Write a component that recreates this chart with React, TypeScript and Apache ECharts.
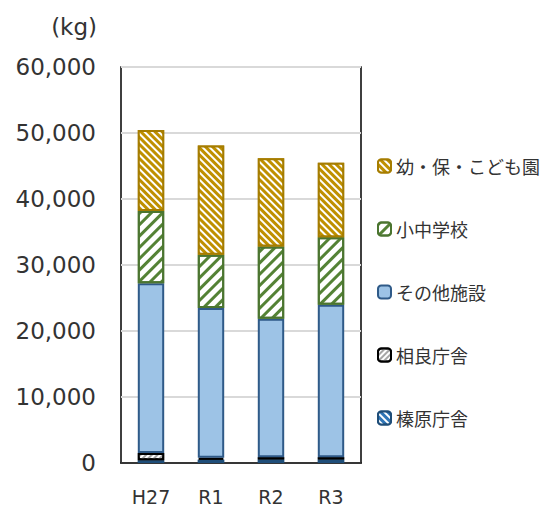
import React, { useEffect, useRef } from "react";
import * as echarts from "echarts";

const categories = ["H27", "R1", "R2", "R3"];
const seriesNames = ["榛原庁舎", "相良庁舎", "その他施設", "小中学校", "幼・保・こども園"];
const haibara = [400, 500, 550, 550];
const sagara = [1100, 300, 330, 330];
const sonota = [25750, 22670, 20970, 23090];
const shochu = [10950, 8070, 10940, 10250];
const youho = [12260, 16550, 13390, 11290];
const yTicks = [0, 10000, 20000, 30000, 40000, 50000, 60000];

const FONT = "'Noto Sans CJK JP', 'Noto Sans', sans-serif";
const NUMFONT = "'DejaVu Sans', 'Noto Sans', sans-serif";

export default function App() {
  const ref = useRef<HTMLDivElement>(null);
  useEffect(() => {
    if (!ref.current) return;
    const chart = echarts.init(ref.current, undefined, { renderer: "svg" });
    const values = [haibara, sagara, sonota, shochu, youho];
    const styles = [
      {
        color: "#2E75B6",
        borderColor: "#1F4E79",
        decal: { symbol: "rect", symbolSize: 1, dashArrayX: [1, 0], dashArrayY: [2, 3], rotation: Math.PI / 4, color: "#FFFFFF" },
      },
      {
        color: "#FFFFFF",
        borderColor: "#000000",
        decal: { symbol: "rect", symbolSize: 1, dashArrayX: [1, 0], dashArrayY: [2, 2], rotation: -Math.PI / 4, color: "#A6A6A6" },
      },
      { color: "#9DC3E6", borderColor: "#2F5A88", decal: "none" },
      {
        color: "#FFFFFF",
        borderColor: "#4B7530",
        decal: { symbol: "rect", symbolSize: 1, dashArrayX: [1, 0], dashArrayY: [3, 5], rotation: -Math.PI / 4, color: "#548235" },
      },
      {
        color: "#BF9000",
        borderColor: "#A67D00",
        decal: { symbol: "rect", symbolSize: 1, dashArrayX: [1, 0], dashArrayY: [2, 3], rotation: Math.PI / 4, color: "#FFFFFF" },
      },
    ];
    const series = seriesNames.map((name, i) => ({
      name,
      type: "bar",
      stack: "total",
      barWidth: "44%",
      data: values[i],
      itemStyle: { ...styles[i], borderWidth: 2 },
      emphasis: { disabled: true },
    }));
    chart.setOption({
      animation: false,
      aria: { enabled: false, decal: { show: true } },
      textStyle: { fontFamily: FONT },
      grid: { left: 121, top: 67, right: 188, bottom: 43, show: true, borderColor: "#000", borderWidth: 1.5, backgroundColor: "transparent" },
      legend: {
        orient: "vertical",
        left: 372,
        top: 152,
        itemGap: 45,
        itemWidth: 13,
        itemHeight: 13,
        data: [...seriesNames].reverse(),
        textStyle: { fontSize: 18, color: "#333", fontFamily: FONT },
        selectedMode: false,
      },
      xAxis: {
        type: "category",
        data: categories,
        axisLine: { show: true, lineStyle: { color: "#000", width: 1.5 } },
        axisTick: { show: false },
        axisLabel: { fontSize: 19, color: "#333", margin: 24, fontFamily: NUMFONT },
      },
      yAxis: {
        type: "value",
        min: yTicks[0],
        max: yTicks[yTicks.length - 1],
        interval: 10000,
        axisLine: { show: false },
        axisTick: { show: false },
        splitLine: { lineStyle: { color: "#D9D9D9", width: 2 } },
        axisLabel: {
          fontSize: 23,
          color: "#333",
          margin: 25,
          fontFamily: NUMFONT,
          formatter: (v: number) => v.toLocaleString("en-US"),
        },
      },
      graphic: [
        {
          type: "text",
          right: 549 - 97,
          top: 15,
          style: { text: "(kg)", fontSize: 23, fill: "#333", fontFamily: NUMFONT },
        },
      ],
      series,
    });
    return () => chart.dispose();
  }, []);
  return (
    <div
      ref={ref}
      style={{ position: "fixed", left: 0, top: 0, width: 549, height: 506, background: "#fff" }}
    />
  );
}
